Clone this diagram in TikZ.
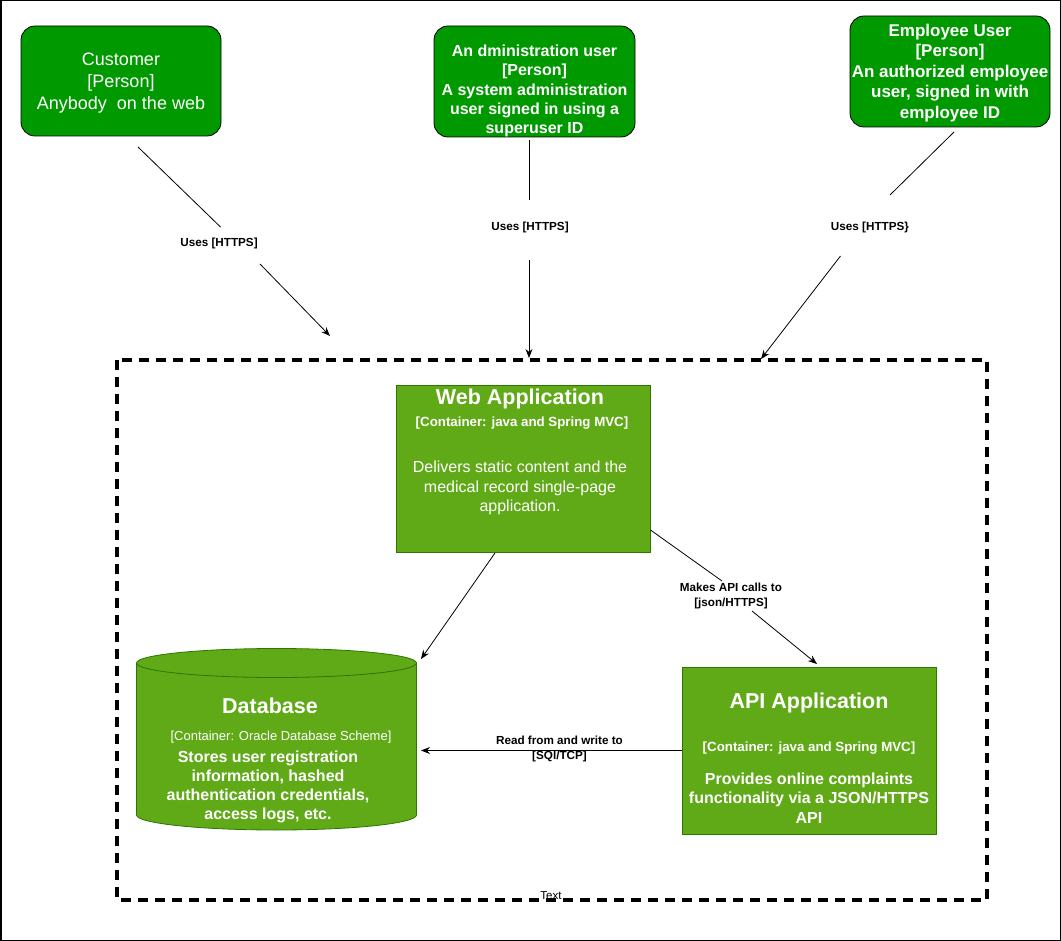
\documentclass[tikz,border=0pt]{standalone}
\usepackage{fontspec}
\setmainfont{Liberation Sans}
\usetikzlibrary{arrows.meta}
\definecolor{persongreen}{HTML}{009900}
\definecolor{contgreen}{HTML}{60A917}
\definecolor{contstroke}{HTML}{2D7600}
\begin{document}
\begin{tikzpicture}[x=1pt,y=-1pt,
  person/.style={draw=black, line width=0.8pt, fill=persongreen, rounded corners=14pt, inner sep=0pt},
  ptext/.style={text=white, align=center, inner sep=0pt},
  container/.style={draw=contstroke, fill=contgreen, line width=0.8pt, inner sep=0pt, minimum width=254pt, minimum height=167pt},
  ctext/.style={text=white, align=center, inner sep=0pt},
  lbl/.style={font=\bfseries\fontsize{11.7}{15.3}\selectfont, align=center, inner sep=0pt},
  conn/.style={line width=0.8pt, black},
  arr/.style={conn, -{Stealth[length=9pt,width=7pt]}},
  boundary/.style={draw=black, line width=3.1pt, dash pattern=on 10pt off 7pt}
]
\useasboundingbox (0,0) rectangle (1061,941);
\draw[line width=1.5pt] (0.75,0.75) rectangle (1060.25,940.25);

% persons
\node[person, minimum width=200pt, minimum height=110pt] (cust) at (121,81) {};
\node[ptext, font=\fontsize{18}{21.6}\selectfont] (custtxt) at (121,83) {Customer\\{}[Person]\\Anybody\ \ on the web};

\node[person, minimum width=201pt, minimum height=111pt] (admin) at (534.5,81.5) {};
\node[ptext, font=\bfseries\fontsize{16}{19.2}\selectfont] (admintxt) at (534.5,91) {An dministration user\\{}[Person]\\A system administration\\user signed in using a\\superuser ID};

\node[person, minimum width=200pt, minimum height=111pt] (emp) at (950,71.5) {};
\node[ptext, font=\bfseries\fontsize{17}{20.5}\selectfont] (emptxt) at (950,73) {Employee User\\{}[Person]\\An authorized employee\\user, signed in with\\employee ID};

% boundary
\draw[boundary] (117,360) rectangle (987,900);
\node[font=\fontsize{11.5}{13}\selectfont, inner sep=0pt] (txt) at (551,896) {Text};

% web application
\node[container] (web) at (523.5,469) {};
\node[ctext, font=\bfseries\fontsize{21.5}{25}\selectfont] (webtitle) at (520,399) {Web Application};
\node[ctext, font=\bfseries\fontsize{13.3}{16}\selectfont] (websub) at (522,423) {[Container: java and Spring MVC]};
\node[ctext, font=\fontsize{16}{19.2}\selectfont] (webdesc) at (520,488) {Delivers static content and the\\medical record single-page\\application.};

% api application
\node[container] (api) at (809.5,750.5) {};
\node[ctext, font=\bfseries\fontsize{21.5}{25}\selectfont] (apititle) at (809,703) {API Application};
\node[ctext, font=\bfseries\fontsize{13.3}{16}\selectfont] (apisub) at (809,748) {[Container: java and Spring MVC]};
\node[ctext, font=\bfseries\fontsize{16}{19.2}\selectfont] (apidesc) at (809,798) {Provides online complaints\\functionality via a JSON/HTTPS\\API};

% database cylinder
\path[fill=contgreen, draw=contstroke, line width=0.8pt]
  (136.5,663) -- (136.5,815)
  .. controls (136.5,823.3) and (199.2,830) .. (276.5,830)
  .. controls (353.8,830) and (416.5,823.3) .. (416.5,815)
  -- (416.5,663)
  .. controls (416.5,655) and (353.8,648.5) .. (276.5,648.5)
  .. controls (199.2,648.5) and (136.5,655) .. (136.5,663) -- cycle;
\draw[draw=contstroke, line width=0.8pt]
  (136.5,663) .. controls (136.5,671) and (199.2,677.5) .. (276.5,677.5)
  .. controls (353.8,677.5) and (416.5,671) .. (416.5,663);
\node[minimum width=280pt, minimum height=181pt, inner sep=0pt] (db) at (276.5,739) {};
\node[ctext, font=\bfseries\fontsize{21.5}{25}\selectfont] (dbtitle) at (270,706) {Database};
\node[ctext, font=\fontsize{13}{16}\selectfont] (dbsub) at (281,737) {[Container: Oracle Database Scheme]};
\node[ctext, font=\bfseries\fontsize{16}{19.2}\selectfont] (dbdesc) at (268,787) {Stores user registration\\information, hashed\\authentication credentials,\\access logs, etc.};

% connector coordinates
\coordinate (cu1) at (138,147);
\coordinate (cu2) at (220.5,227);
\coordinate (cu3) at (260,264);
\coordinate (cu4) at (330,336);
\coordinate (ad1) at (529,140);
\coordinate (ad2) at (529,200);
\coordinate (ad3) at (529,260);
\coordinate (ad4) at (529,358);
\coordinate (em1) at (954,132);
\coordinate (em2) at (890,195);
\coordinate (em3) at (840.5,256);
\coordinate (em4) at (761,359);
\coordinate (w1) at (495,553);
\coordinate (d1) at (421,659);
\coordinate (wa1) at (650.5,530);
\coordinate (wa2) at (722,581);
\coordinate (wa3) at (752,611);
\coordinate (wa4) at (817,664);
\coordinate (d2) at (421,750.5);

% connectors
\draw[conn] (cu1) -- (cu2);
\draw[arr] (cu3) -- (cu4);
\node[lbl] (l1) at (219,243) {Uses [HTTPS]};

\draw[conn] (ad1) -- (ad2);
\draw[arr] (ad3) -- (ad4);
\node[lbl] (l2) at (530,227) {Uses [HTTPS]};

\draw[conn] (em1) -- (em2);
\draw[arr] (em3) -- (em4);
\node[lbl] (l3) at (870,227) {Uses [HTTPS\}};

\draw[arr] (w1) -- (d1);

\draw[conn] (wa1) -- (wa2);
\draw[arr] (wa3) -- (wa4);
\node[lbl] (l4) at (731,596) {Makes API calls to\\{}[json/HTTPS]};

\draw[arr] (api.west) -- (d2);
\node[lbl] (l5) at (559.5,749) {Read from and write to\\{}[SQl/TCP]};
\end{tikzpicture}
\end{document}
